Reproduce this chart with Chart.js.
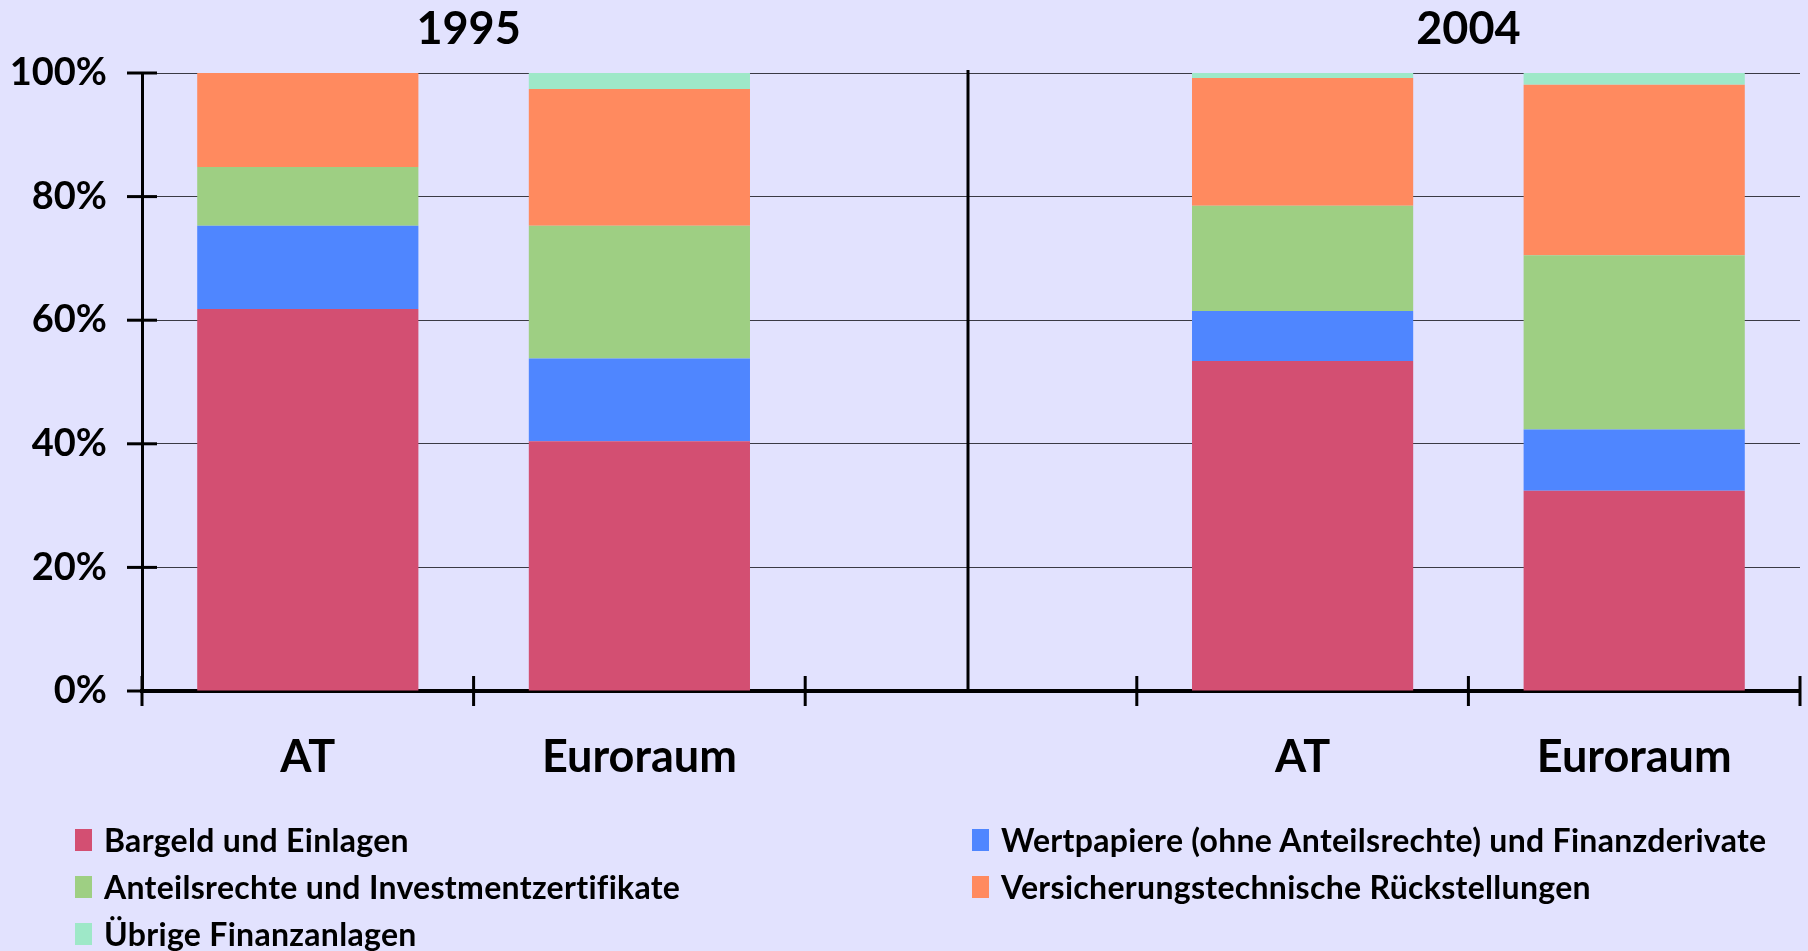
<!DOCTYPE html>
<html>
<head>
<meta charset="utf-8">
<script src="https://cdn.jsdelivr.net/npm/chart.js@4.4.1/dist/chart.umd.min.js"></script>
<style>
  html, body { margin: 0; padding: 0; background: #E2E2FE; }
  #wrap { position: relative; width: 1808px; height: 951px; }
  #legend {
    position: absolute; left: 75px; top: 816px;
    display: grid; grid-template-columns: 897px auto; grid-auto-rows: 47px;
    font: bold 32px Lato, sans-serif; letter-spacing: 0.3px; color: #000;
  }
  .item { display: flex; align-items: center; white-space: nowrap; }
  .box { width: 17px; height: 22px; margin-right: 12px; }
</style>
</head>
<body>
<div id="wrap">
  <canvas id="myChart" width="1808" height="951"></canvas>
  <div id="legend"></div>
</div>
<script>
// categorias del eje x (la del medio queda vacia como separador)
const categorias = ['AT', 'Euroraum', '', 'AT', 'Euroraum']
const titulosGrupo = ['1995', '2004']
const gruposCat = [[0, 1], [3, 4]]
const ticksY = [0, 20, 40, 60, 80, 100]

// valores en % (1995 AT, 1995 Euroraum, -, 2004 AT, 2004 Euroraum)
const bargeld = [61.8, 40.4, null, 53.4, 32.4]
const wertpapiere = [13.5, 13.4, null, 8.1, 9.9]
const anteilsrechte = [9.5, 21.5, null, 17.0, 28.2]
const versicherung = [15.2, 22.1, null, 20.7, 27.6]
const uebrige = [0, 2.6, null, 0.8, 1.9]

const series = [
    { label: 'Bargeld und Einlagen', data: bargeld, color: '#D34F72' },
    { label: 'Wertpapiere (ohne Anteilsrechte) und Finanzderivate', data: wertpapiere, color: '#4F86FF' },
    { label: 'Anteilsrechte und Investmentzertifikate', data: anteilsrechte, color: '#9ECF83' },
    { label: 'Versicherungstechnische Rückstellungen', data: versicherung, color: '#FF8A5F' },
    { label: 'Übrige Finanzanlagen', data: uebrige, color: '#9EE8C8' }
]

// ticks que cruzan los ejes, linea divisoria y titulos de grupo
const marcas = {
    id: 'marcas',
    afterDraw(chart) {
        const ctx = chart.ctx
        const x = chart.scales.x
        const y = chart.scales.y
        const area = chart.chartArea
        ctx.save()
        ctx.strokeStyle = '#000'
        ctx.lineWidth = 3
        y.ticks.forEach(t => {
            const py = y.getPixelForValue(t.value)
            ctx.beginPath()
            ctx.moveTo(area.left - 15, py)
            ctx.lineTo(area.left + 15, py)
            ctx.stroke()
        })
        for (let i = 0; i <= categorias.length; i++) {
            const px = x.getPixelForValue(i - 0.5)
            ctx.beginPath()
            ctx.moveTo(px, area.bottom - 15)
            ctx.lineTo(px, area.bottom + 15)
            ctx.stroke()
        }
        const pxDiv = x.getPixelForValue(categorias.indexOf(''))
        ctx.beginPath()
        ctx.moveTo(pxDiv - 3, area.top - 3)
        ctx.lineTo(pxDiv - 3, area.bottom)
        ctx.stroke()

        ctx.fillStyle = '#000'
        ctx.font = 'bold 45px Lato'
        ctx.textAlign = 'center'
        ctx.textBaseline = 'alphabetic'
        titulosGrupo.forEach((t, k) => {
            const [a, b] = gruposCat[k]
            const cx = (x.getPixelForValue(a) + x.getPixelForValue(b)) / 2
            ctx.fillText(t, cx - (k === 0 ? 5 : 0), 44)
        })
        ctx.restore()
    }
}

const ctx = document.getElementById('myChart')

const grafico = new Chart(ctx, {
    type: 'bar',
    data: {
        labels: categorias,
        datasets: series.map(s => ({
            label: s.label,
            data: s.data,
            backgroundColor: s.color,
            borderWidth: 0,
            barPercentage: 0.667,
            categoryPercentage: 1
        }))
    },
    options: {
        responsive: false,
        animation: false,
        devicePixelRatio: 1,
        layout: { padding: { left: 11, right: 8, top: 73, bottom: 160 } },
        plugins: {
            legend: { display: false },
            tooltip: { enabled: false }
        },
        scales: {
            x: {
                stacked: true,
                afterFit: s => { s.height = 100 },
                grid: { display: false },
                border: { display: true, color: '#000', width: 4 },
                ticks: {
                    color: '#000',
                    padding: 31,
                    font: { family: 'Lato', weight: 'bold', size: 45 }
                }
            },
            y: {
                stacked: true,
                min: 0,
                max: 100,
                afterFit: s => { s.width = 131 },
                afterBuildTicks: s => { s.ticks = ticksY.map(v => ({ value: v })) },
                grid: { color: '#3a3a44', lineWidth: 1, drawTicks: false },
                border: { display: true, color: '#000', width: 3 },
                ticks: {
                    color: '#000',
                    padding: 35,
                    font: { family: 'Lato', weight: 'bold', size: 38 },
                    callback: v => v + '%'
                }
            }
        }
    },
    plugins: [marcas]
})

// leyenda en html, dos columnas
const legend = document.getElementById('legend')
grafico.data.datasets.forEach(d => {
    const item = document.createElement('div')
    item.className = 'item'
    item.innerHTML = `<span class="box" style="background:${d.backgroundColor}"></span><span>${d.label}</span>`
    legend.appendChild(item)
})
</script>
</body>
</html>
